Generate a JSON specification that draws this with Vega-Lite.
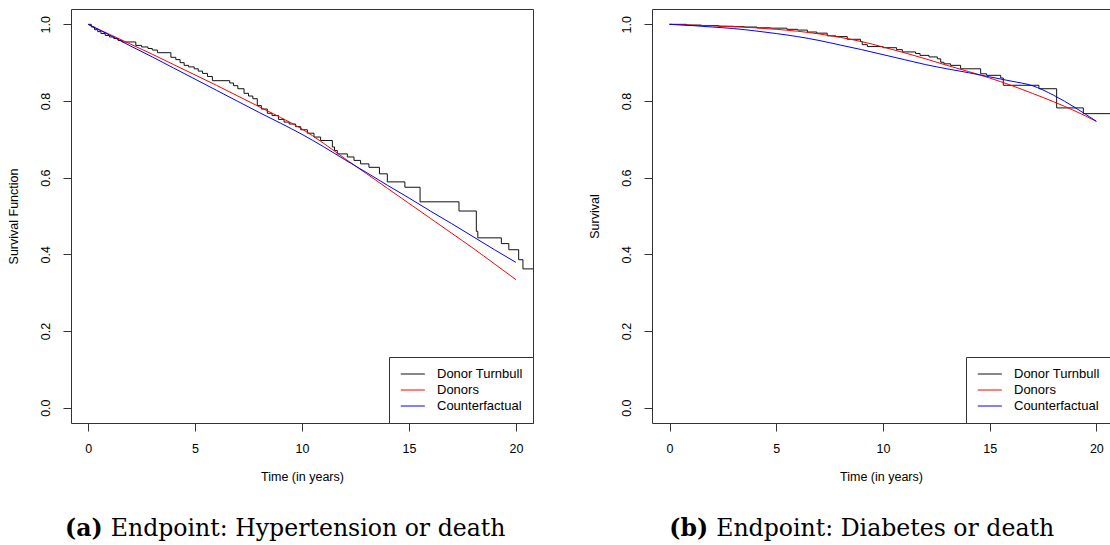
{
  "$schema": "https://vega.github.io/schema/vega-lite/v6.json",
  "background": "white",
  "padding": {"left": 6, "top": 8, "right": 0, "bottom": 0},
  "spacing": 52,
  "resolve": {"scale": {"color": "independent"}, "legend": {"color": "independent"}},
  "config": {
    "view": {"stroke": "#333", "strokeWidth": 1},
    "axis": {"grid": false, "domain": false, "domainColor": "#333", "tickColor": "#333", "tickSize": 8, "labelFont": "Liberation Sans", "labelFontSize": 12.5, "labelColor": "#000", "labelPadding": 11, "labelFlush": false, "labelOverlap": false, "titleFont": "Liberation Sans", "titleFontSize": 12.5, "titleFontWeight": "normal", "titleColor": "#000"},
    "axisY": {"labelAngle": 270, "labelPadding": 11, "titlePadding": 19},
    "axisX": {"titlePadding": 16},
    "legend": {"title": null, "orient": "bottom-right", "offset": 0, "strokeColor": "#333", "fillColor": "white", "padding": 10, "symbolType": "M-0.8,0H2.9", "symbolSize": 169, "symbolStrokeWidth": 1, "labelFont": "Liberation Sans", "labelFontSize": 13, "labelColor": "#000", "labelOffset": 24, "rowPadding": 2},
    "text": {"font": "DejaVu Serif", "fontSize": 23.6, "baseline": "alphabetic", "color": "#000"}
  },
  "datasets": {
    "hyp_km": [
      {"series": "Donor Turnbull", "t": 0, "s": 1.0},
      {"series": "Donor Turnbull", "t": 0.15, "s": 0.993},
      {"series": "Donor Turnbull", "t": 0.3, "s": 0.986},
      {"series": "Donor Turnbull", "t": 0.45, "s": 0.981},
      {"series": "Donor Turnbull", "t": 0.6, "s": 0.976},
      {"series": "Donor Turnbull", "t": 0.8, "s": 0.971},
      {"series": "Donor Turnbull", "t": 1.0, "s": 0.967},
      {"series": "Donor Turnbull", "t": 1.2, "s": 0.963},
      {"series": "Donor Turnbull", "t": 1.4, "s": 0.958},
      {"series": "Donor Turnbull", "t": 1.6, "s": 0.954},
      {"series": "Donor Turnbull", "t": 2.23, "s": 0.945},
      {"series": "Donor Turnbull", "t": 2.5, "s": 0.941},
      {"series": "Donor Turnbull", "t": 2.8, "s": 0.937},
      {"series": "Donor Turnbull", "t": 3.0, "s": 0.933},
      {"series": "Donor Turnbull", "t": 3.24, "s": 0.926},
      {"series": "Donor Turnbull", "t": 3.87, "s": 0.914},
      {"series": "Donor Turnbull", "t": 4.1, "s": 0.908},
      {"series": "Donor Turnbull", "t": 4.3, "s": 0.9},
      {"series": "Donor Turnbull", "t": 4.49, "s": 0.893},
      {"series": "Donor Turnbull", "t": 4.7, "s": 0.889},
      {"series": "Donor Turnbull", "t": 4.96, "s": 0.884},
      {"series": "Donor Turnbull", "t": 5.15, "s": 0.878},
      {"series": "Donor Turnbull", "t": 5.35, "s": 0.872},
      {"series": "Donor Turnbull", "t": 5.58, "s": 0.864},
      {"series": "Donor Turnbull", "t": 5.81, "s": 0.853},
      {"series": "Donor Turnbull", "t": 6.62, "s": 0.847},
      {"series": "Donor Turnbull", "t": 6.8, "s": 0.84},
      {"series": "Donor Turnbull", "t": 7.0, "s": 0.832},
      {"series": "Donor Turnbull", "t": 7.29, "s": 0.82},
      {"series": "Donor Turnbull", "t": 7.5, "s": 0.813},
      {"series": "Donor Turnbull", "t": 7.7, "s": 0.806},
      {"series": "Donor Turnbull", "t": 7.91, "s": 0.788},
      {"series": "Donor Turnbull", "t": 8.1, "s": 0.779},
      {"series": "Donor Turnbull", "t": 8.38, "s": 0.768},
      {"series": "Donor Turnbull", "t": 8.6, "s": 0.762},
      {"series": "Donor Turnbull", "t": 8.9, "s": 0.752},
      {"series": "Donor Turnbull", "t": 9.16, "s": 0.745},
      {"series": "Donor Turnbull", "t": 9.4, "s": 0.74},
      {"series": "Donor Turnbull", "t": 9.7, "s": 0.733},
      {"series": "Donor Turnbull", "t": 9.94, "s": 0.725},
      {"series": "Donor Turnbull", "t": 10.25, "s": 0.716},
      {"series": "Donor Turnbull", "t": 10.56, "s": 0.706},
      {"series": "Donor Turnbull", "t": 10.87, "s": 0.697},
      {"series": "Donor Turnbull", "t": 11.42, "s": 0.68},
      {"series": "Donor Turnbull", "t": 11.52, "s": 0.671},
      {"series": "Donor Turnbull", "t": 11.65, "s": 0.662},
      {"series": "Donor Turnbull", "t": 12.12, "s": 0.654},
      {"series": "Donor Turnbull", "t": 12.43, "s": 0.645},
      {"series": "Donor Turnbull", "t": 12.74, "s": 0.636},
      {"series": "Donor Turnbull", "t": 13.13, "s": 0.627},
      {"series": "Donor Turnbull", "t": 13.62, "s": 0.61},
      {"series": "Donor Turnbull", "t": 13.99, "s": 0.589},
      {"series": "Donor Turnbull", "t": 14.81, "s": 0.575},
      {"series": "Donor Turnbull", "t": 15.52, "s": 0.537},
      {"series": "Donor Turnbull", "t": 17.34, "s": 0.513},
      {"series": "Donor Turnbull", "t": 18.15, "s": 0.46},
      {"series": "Donor Turnbull", "t": 18.22, "s": 0.443},
      {"series": "Donor Turnbull", "t": 19.32, "s": 0.428},
      {"series": "Donor Turnbull", "t": 19.67, "s": 0.412},
      {"series": "Donor Turnbull", "t": 20.13, "s": 0.386},
      {"series": "Donor Turnbull", "t": 20.33, "s": 0.362},
      {"series": "Donor Turnbull", "t": 20.8, "s": 0.362}
    ],
    "hyp_curves": [
      {"series": "Donors", "t": 0, "s": 1.0},
      {"series": "Donors", "t": 1, "s": 0.974},
      {"series": "Donors", "t": 2, "s": 0.948},
      {"series": "Donors", "t": 3, "s": 0.922},
      {"series": "Donors", "t": 4, "s": 0.895},
      {"series": "Donors", "t": 5, "s": 0.868},
      {"series": "Donors", "t": 6, "s": 0.841},
      {"series": "Donors", "t": 7, "s": 0.813},
      {"series": "Donors", "t": 8, "s": 0.785},
      {"series": "Donors", "t": 9, "s": 0.757},
      {"series": "Donors", "t": 10, "s": 0.727},
      {"series": "Donors", "t": 11, "s": 0.69},
      {"series": "Donors", "t": 12, "s": 0.65},
      {"series": "Donors", "t": 13, "s": 0.611},
      {"series": "Donors", "t": 14, "s": 0.572},
      {"series": "Donors", "t": 15, "s": 0.533},
      {"series": "Donors", "t": 16, "s": 0.494},
      {"series": "Donors", "t": 17, "s": 0.455},
      {"series": "Donors", "t": 18, "s": 0.416},
      {"series": "Donors", "t": 19, "s": 0.375},
      {"series": "Donors", "t": 20, "s": 0.334},
      {"series": "Counterfactual", "t": 0, "s": 1.0},
      {"series": "Counterfactual", "t": 1, "s": 0.972},
      {"series": "Counterfactual", "t": 2, "s": 0.943},
      {"series": "Counterfactual", "t": 3, "s": 0.915},
      {"series": "Counterfactual", "t": 4, "s": 0.886},
      {"series": "Counterfactual", "t": 5, "s": 0.857},
      {"series": "Counterfactual", "t": 6, "s": 0.828},
      {"series": "Counterfactual", "t": 7, "s": 0.799},
      {"series": "Counterfactual", "t": 8, "s": 0.77},
      {"series": "Counterfactual", "t": 9, "s": 0.742},
      {"series": "Counterfactual", "t": 10, "s": 0.713},
      {"series": "Counterfactual", "t": 11, "s": 0.681},
      {"series": "Counterfactual", "t": 12, "s": 0.647},
      {"series": "Counterfactual", "t": 13, "s": 0.614},
      {"series": "Counterfactual", "t": 14, "s": 0.58},
      {"series": "Counterfactual", "t": 15, "s": 0.547},
      {"series": "Counterfactual", "t": 16, "s": 0.513},
      {"series": "Counterfactual", "t": 17, "s": 0.48},
      {"series": "Counterfactual", "t": 18, "s": 0.446},
      {"series": "Counterfactual", "t": 19, "s": 0.412},
      {"series": "Counterfactual", "t": 20, "s": 0.379}
    ],
    "dia_km": [
      {"series": "Donor Turnbull", "t": 0, "s": 1.0},
      {"series": "Donor Turnbull", "t": 0.8, "s": 0.998},
      {"series": "Donor Turnbull", "t": 1.5, "s": 0.997},
      {"series": "Donor Turnbull", "t": 2.3, "s": 0.995},
      {"series": "Donor Turnbull", "t": 3.0, "s": 0.994},
      {"series": "Donor Turnbull", "t": 3.5, "s": 0.993},
      {"series": "Donor Turnbull", "t": 4.1, "s": 0.991},
      {"series": "Donor Turnbull", "t": 4.74, "s": 0.99},
      {"series": "Donor Turnbull", "t": 5.5, "s": 0.987},
      {"series": "Donor Turnbull", "t": 6.0, "s": 0.985},
      {"series": "Donor Turnbull", "t": 6.46, "s": 0.98},
      {"series": "Donor Turnbull", "t": 6.9, "s": 0.977},
      {"series": "Donor Turnbull", "t": 7.39, "s": 0.97},
      {"series": "Donor Turnbull", "t": 7.8, "s": 0.968},
      {"series": "Donor Turnbull", "t": 8.33, "s": 0.961},
      {"series": "Donor Turnbull", "t": 8.95, "s": 0.955},
      {"series": "Donor Turnbull", "t": 9.03, "s": 0.947},
      {"series": "Donor Turnbull", "t": 9.27, "s": 0.942},
      {"series": "Donor Turnbull", "t": 10.0, "s": 0.939},
      {"series": "Donor Turnbull", "t": 10.64, "s": 0.934},
      {"series": "Donor Turnbull", "t": 10.91, "s": 0.928},
      {"series": "Donor Turnbull", "t": 11.53, "s": 0.924},
      {"series": "Donor Turnbull", "t": 11.74, "s": 0.919},
      {"series": "Donor Turnbull", "t": 12.16, "s": 0.915},
      {"series": "Donor Turnbull", "t": 12.55, "s": 0.91},
      {"series": "Donor Turnbull", "t": 12.71, "s": 0.901},
      {"series": "Donor Turnbull", "t": 12.86, "s": 0.897},
      {"series": "Donor Turnbull", "t": 13.17, "s": 0.893},
      {"series": "Donor Turnbull", "t": 13.64, "s": 0.884},
      {"series": "Donor Turnbull", "t": 14.58, "s": 0.871},
      {"series": "Donor Turnbull", "t": 14.86, "s": 0.867},
      {"series": "Donor Turnbull", "t": 15.52, "s": 0.86},
      {"series": "Donor Turnbull", "t": 15.64, "s": 0.841},
      {"series": "Donor Turnbull", "t": 17.31, "s": 0.832},
      {"series": "Donor Turnbull", "t": 18.14, "s": 0.782},
      {"series": "Donor Turnbull", "t": 19.39, "s": 0.767},
      {"series": "Donor Turnbull", "t": 20.64, "s": 0.767}
    ],
    "dia_curves": [
      {"series": "Donors", "t": 0, "s": 1.0},
      {"series": "Donors", "t": 1, "s": 0.998},
      {"series": "Donors", "t": 2, "s": 0.996},
      {"series": "Donors", "t": 3, "s": 0.994},
      {"series": "Donors", "t": 4, "s": 0.991},
      {"series": "Donors", "t": 5, "s": 0.987},
      {"series": "Donors", "t": 6, "s": 0.982},
      {"series": "Donors", "t": 7, "s": 0.975},
      {"series": "Donors", "t": 8, "s": 0.966},
      {"series": "Donors", "t": 9, "s": 0.955},
      {"series": "Donors", "t": 10, "s": 0.941},
      {"series": "Donors", "t": 11, "s": 0.926},
      {"series": "Donors", "t": 12, "s": 0.91},
      {"series": "Donors", "t": 13, "s": 0.893},
      {"series": "Donors", "t": 14, "s": 0.877},
      {"series": "Donors", "t": 15, "s": 0.86},
      {"series": "Donors", "t": 16, "s": 0.841},
      {"series": "Donors", "t": 17, "s": 0.82},
      {"series": "Donors", "t": 18, "s": 0.798},
      {"series": "Donors", "t": 19, "s": 0.774},
      {"series": "Donors", "t": 20, "s": 0.747},
      {"series": "Counterfactual", "t": 0, "s": 1.0},
      {"series": "Counterfactual", "t": 1, "s": 0.997},
      {"series": "Counterfactual", "t": 2, "s": 0.993},
      {"series": "Counterfactual", "t": 3, "s": 0.989},
      {"series": "Counterfactual", "t": 4, "s": 0.983},
      {"series": "Counterfactual", "t": 5, "s": 0.976},
      {"series": "Counterfactual", "t": 6, "s": 0.968},
      {"series": "Counterfactual", "t": 7, "s": 0.958},
      {"series": "Counterfactual", "t": 8, "s": 0.946},
      {"series": "Counterfactual", "t": 9, "s": 0.934},
      {"series": "Counterfactual", "t": 10, "s": 0.921},
      {"series": "Counterfactual", "t": 11, "s": 0.908},
      {"series": "Counterfactual", "t": 12, "s": 0.895},
      {"series": "Counterfactual", "t": 13, "s": 0.884},
      {"series": "Counterfactual", "t": 14, "s": 0.874},
      {"series": "Counterfactual", "t": 15, "s": 0.863},
      {"series": "Counterfactual", "t": 16, "s": 0.852},
      {"series": "Counterfactual", "t": 17, "s": 0.84},
      {"series": "Counterfactual", "t": 18, "s": 0.815},
      {"series": "Counterfactual", "t": 19, "s": 0.783},
      {"series": "Counterfactual", "t": 20, "s": 0.747}
    ]
  },
  "hconcat": [
    {
      "width": 462,
      "height": 414,
      "layer": [
        {
          "data": {"name": "hyp_km"},
          "mark": {"type": "line", "interpolate": "step-after", "strokeWidth": 1},
          "encoding": {
            "x": {"field": "t", "type": "quantitative", "scale": {"domain": [-0.8, 20.8], "nice": false, "zero": false}, "axis": {"title": "Time (in years)", "values": [0, 5, 10, 15, 20]}},
            "y": {"field": "s", "type": "quantitative", "scale": {"domain": [-0.04, 1.04], "nice": false, "zero": false}, "axis": {"title": "Survival Function", "values": [0, 0.2, 0.4, 0.6, 0.8, 1.0], "format": ".1f"}},
            "color": {"field": "series", "type": "nominal", "scale": {"domain": ["Donor Turnbull", "Donors", "Counterfactual"], "range": ["#111111", "#ff0000", "#0000ff"]}}
          }
        },
        {
          "data": {"name": "hyp_curves"},
          "mark": {"type": "line", "interpolate": "monotone", "strokeWidth": 1},
          "encoding": {
            "x": {"field": "t", "type": "quantitative"},
            "y": {"field": "s", "type": "quantitative"},
            "color": {"field": "series", "type": "nominal"}
          }
        },
        {
          "data": {"values": [{}]},
          "mark": {"type": "text", "fontWeight": "bold", "align": "right", "dx": -4},
          "encoding": {
            "x": {"datum": 0.87, "type": "quantitative"},
            "y": {"datum": -0.335, "type": "quantitative"},
            "text": {"value": "(a)"}
          }
        },
        {
          "data": {"values": [{}]},
          "mark": {"type": "text", "align": "left", "dx": 4},
          "encoding": {
            "x": {"datum": 0.87, "type": "quantitative"},
            "y": {"datum": -0.335, "type": "quantitative"},
            "text": {"value": "Endpoint: Hypertension or death"}
          }
        }
      ]
    },
    {
      "width": 458,
      "height": 414,
      "view": {"stroke": null},
      "resolve": {"axis": {"x": "independent"}},
      "layer": [
        {
          "data": {"name": "dia_km"},
          "mark": {"type": "line", "interpolate": "step-after", "strokeWidth": 1},
          "encoding": {
            "x": {"field": "t", "type": "quantitative", "scale": {"domain": [-0.82, 20.64], "nice": false, "zero": false}, "axis": {"title": "Time (in years)", "values": [0, 5, 10, 15, 20], "orient": "bottom", "domain": true}},
            "y": {"field": "s", "type": "quantitative", "scale": {"domain": [-0.04, 1.04], "nice": false, "zero": false}, "axis": {"title": "Survival", "values": [0, 0.2, 0.4, 0.6, 0.8, 1.0], "format": ".1f", "domain": true}},
            "color": {"field": "series", "type": "nominal", "scale": {"domain": ["Donor Turnbull", "Donors", "Counterfactual"], "range": ["#111111", "#ff0000", "#0000ff"]}}
          }
        },
        {
          "data": {"name": "dia_curves"},
          "mark": {"type": "line", "interpolate": "monotone", "strokeWidth": 1},
          "encoding": {
            "x": {"field": "t", "type": "quantitative", "axis": null},
            "y": {"field": "s", "type": "quantitative"},
            "color": {"field": "series", "type": "nominal"}
          }
        },
        {
          "data": {"values": [{}]},
          "mark": {"type": "text", "fontWeight": "bold", "align": "right", "dx": -4},
          "encoding": {
            "x": {"datum": 2.0, "type": "quantitative", "axis": {"orient": "top", "labels": false, "ticks": false, "title": null, "domain": true}},
            "y": {"datum": -0.335, "type": "quantitative"},
            "text": {"value": "(b)"}
          }
        },
        {
          "data": {"values": [{}]},
          "mark": {"type": "text", "align": "left", "dx": 4},
          "encoding": {
            "x": {"datum": 2.0, "type": "quantitative", "axis": null},
            "y": {"datum": -0.335, "type": "quantitative"},
            "text": {"value": "Endpoint: Diabetes or death"}
          }
        }
      ]
    }
  ]
}
